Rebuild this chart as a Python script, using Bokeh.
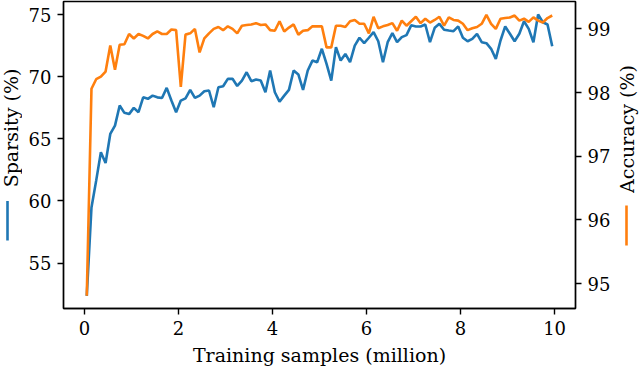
import math
from bokeh.plotting import figure
from bokeh.layouts import row
from bokeh.models import Range1d, LinearAxis, FixedTicker
from bokeh.core.properties import value
from bokeh.embed import file_html
from bokeh.resources import INLINE

# training samples (million)
samples = [round(0.05 + 0.1 * i, 2) for i in range(100)]

sparsity = [52.36, 59.48, 61.64, 63.92, 63.06, 65.40, 66.07, 67.69, 67.10, 67.00,
            67.50, 67.15, 68.35, 68.23, 68.49, 68.35, 68.30, 69.11, 68.09, 67.15,
            68.09, 68.27, 68.95, 68.30, 68.49, 68.84, 68.90, 67.55, 69.16, 69.24,
            69.84, 69.84, 69.27, 69.70, 70.37, 69.65, 69.78, 69.70, 68.76, 70.51,
            68.76, 68.00, 68.49, 68.95, 70.51, 70.19, 68.95, 70.51, 71.31, 71.18,
            72.26, 71.05, 69.70, 72.39, 71.31, 71.85, 71.18, 72.52, 73.15, 72.71,
            73.15, 73.60, 72.87, 71.18, 72.79, 73.52, 72.79, 73.20, 73.36, 74.15,
            74.06, 74.06, 74.22, 72.79, 73.95, 74.27, 73.79, 73.73, 73.68, 74.06,
            73.15, 72.87, 73.06, 73.47, 72.79, 72.71, 72.26, 71.45, 72.93, 74.06,
            73.47, 72.87, 73.47, 74.48, 73.87, 72.79, 75.02, 74.40, 74.22, 72.47]

accuracy = [94.81, 98.06, 98.21, 98.25, 98.33, 98.74, 98.36, 98.75, 98.76, 98.92,
            98.85, 98.92, 98.89, 98.85, 98.92, 98.96, 98.92, 98.92, 98.99, 98.98,
            98.09, 98.91, 98.93, 99.00, 98.63, 98.85, 98.93, 99.00, 99.03, 98.98,
            99.04, 99.00, 98.93, 99.05, 99.06, 99.07, 99.09, 99.06, 99.07, 98.98,
            98.97, 99.12, 98.96, 99.02, 99.07, 98.91, 98.97, 98.98, 99.04, 99.04,
            99.04, 98.71, 98.71, 99.05, 99.05, 99.03, 99.12, 99.14, 99.08, 99.08,
            98.93, 99.19, 99.01, 99.04, 99.06, 99.09, 98.97, 99.13, 99.05, 99.12,
            99.19, 99.09, 99.16, 99.10, 99.14, 99.19, 99.05, 99.18, 99.14, 99.13,
            99.08, 98.98, 99.01, 99.03, 99.08, 99.22, 99.08, 99.00, 99.16, 99.17,
            99.18, 99.21, 99.13, 99.16, 99.11, 99.18, 99.13, 99.10, 99.17, 99.21]

x_ticks = [0, 2, 4, 6, 8, 10]
left_ticks = [55, 60, 65, 70, 75]
right_ticks = [95, 96, 97, 98, 99]
left_title = ["Sparsity (%)"]
right_title = ["Accuracy (%)"]
x_title = "Training samples (million)"

BLUE = "#1f77b4"
ORANGE = "#ff7f0e"
FONT = "DejaVu Serif"
TICK_FS = "18px"
LABEL_FS = "19px"
H = 389
TOP, BOTTOM = 1, 308   # frame top / bottom in page pixels
LW = 22      # left title strip
RW = 24      # right title strip
W = 640 - LW - RW


def strip(width, x0):
    # frame spans page pixels TOP..BOTTOM, so data coords are page pixels
    s = figure(width=width, height=H, x_range=Range1d(x0, x0 + width),
               y_range=Range1d(BOTTOM, TOP),
               output_backend="svg", toolbar_location=None,
               x_axis_type=None, y_axis_type=None, min_border=0)
    s.min_border_left = s.min_border_right = 0
    s.min_border_top = TOP
    s.min_border_bottom = H - BOTTOM
    s.grid.visible = False
    s.outline_line_color = None
    s.background_fill_color = "white"
    s.border_fill_color = "white"
    return s


# main chart
p = figure(width=W, height=H,
           x_range=Range1d(-0.445, 10.445), y_range=Range1d(51.34, 76.07),
           output_backend="svg", toolbar_location=None,
           min_border_left=63 - LW, min_border_right=LW + W - 575,
           min_border_top=TOP, min_border_bottom=H - BOTTOM)
p.extra_y_ranges = {"acc": Range1d(94.61, 99.43)}
p.grid.visible = False
p.outline_line_color = "black"
p.outline_line_width = 1.4
p.background_fill_color = "white"
p.border_fill_color = "white"

right = LinearAxis(y_range_name="acc")
p.add_layout(right, "right")

p.xaxis.ticker = FixedTicker(ticks=x_ticks)
p.yaxis[0].ticker = FixedTicker(ticks=left_ticks)
right.ticker = FixedTicker(ticks=right_ticks)

for ax in p.axis:
    ax.axis_line_color = "black"
    ax.axis_line_width = 1.4
    ax.major_tick_line_color = "black"
    ax.major_tick_line_width = 1.4
    ax.major_tick_out = 6
    ax.major_tick_in = 0
    ax.minor_tick_line_color = None
    ax.major_label_text_font = FONT
    ax.major_label_text_font_size = TICK_FS
    ax.major_label_text_color = "black"
    ax.major_label_standoff = 6

p.xaxis.axis_label = x_title
p.xaxis.axis_label_text_font = FONT
p.xaxis.axis_label_text_font_size = LABEL_FS
p.xaxis.axis_label_text_font_style = "normal"
p.xaxis.axis_label_text_color = "black"
p.xaxis.axis_label_standoff = 6

p.line(samples, sparsity, line_color=BLUE, line_width=2.6)
p.line(samples, accuracy, line_color=ORANGE, line_width=2.6, y_range_name="acc")

# left strip: y title with its colour key (coordinates are page pixels)
left = strip(LW, 0)
left.text(x=[10], y=[127.5], text=left_title, angle=math.pi / 2,
          text_align="center", text_baseline="middle",
          text_font=value(FONT), text_font_size=value(LABEL_FS), text_color="black")
left.line(x=[7, 7], y=[200.5, 240], line_color=BLUE, line_width=2.6)

# right strip
rs = strip(RW, 640 - RW)
rs.text(x=[626], y=[128.5], text=right_title, angle=math.pi / 2,
        text_align="center", text_baseline="middle",
        text_font=value(FONT), text_font_size=value(LABEL_FS), text_color="black")
rs.line(x=[626, 626], y=[205, 245], line_color=ORANGE, line_width=2.6)

layout = row(left, p, rs, spacing=0)
open("out.html", "w").write(file_html(layout, INLINE))
